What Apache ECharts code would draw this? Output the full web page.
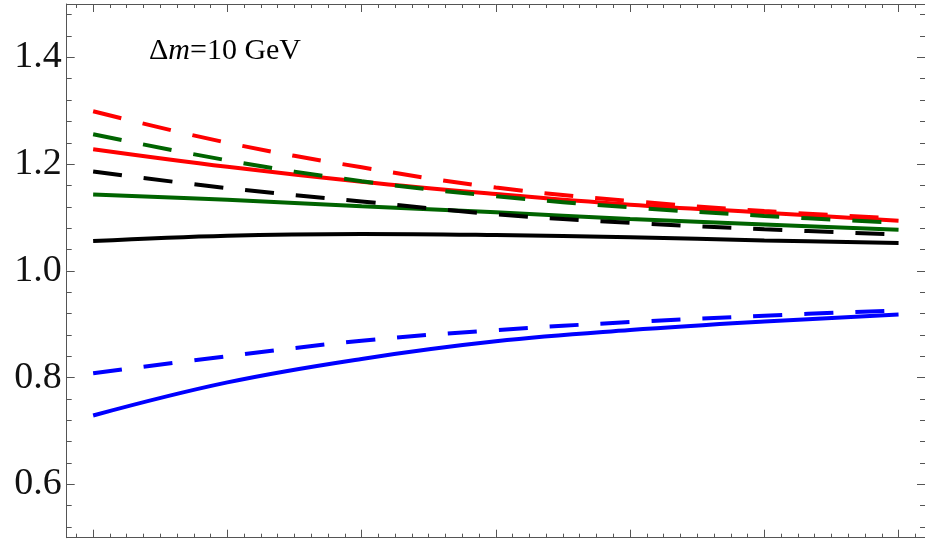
<!DOCTYPE html>
<html>
<head>
<meta charset="utf-8">
<script src="https://cdn.jsdelivr.net/npm/echarts@6/dist/echarts.min.js"></script>
<style>
  html, body { margin: 0; padding: 0; background: #fff; }
  #chart { width: 925px; height: 539px; }
</style>
</head>
<body>
<div id="chart"></div>
<script>
// Sample positions along the horizontal axis (major tick units)
const xs = [0, 1, 2, 3, 4, 5, 6];

// Ratio curves
const redSolid    = [1.228, 1.195, 1.167, 1.144, 1.124, 1.109, 1.094];
const redDashed   = [1.299, 1.240, 1.194, 1.156, 1.131, 1.112, 1.098];
const greenSolid  = [1.143, 1.133, 1.121, 1.110, 1.097, 1.087, 1.077];
const greenDashed = [1.256, 1.207, 1.168, 1.140, 1.119, 1.103, 1.090];
const blackSolid  = [1.056, 1.066, 1.069, 1.067, 1.063, 1.057, 1.052];
const blackDashed = [1.186, 1.155, 1.130, 1.106, 1.090, 1.078, 1.068];
const blueSolid   = [0.729, 0.791, 0.835, 0.868, 0.889, 0.905, 0.918];
const blueDashed  = [0.808, 0.840, 0.869, 0.889, 0.904, 0.916, 0.926];

// Tick positions
const xMajor = [0, 1, 2, 3, 4, 5, 6];
const yMajorLabels = [0.6, 0.8, 1.0, 1.2, 1.4];

const xMinor = [];
for (let k = -1; k <= 49; k++) if (k % 8 !== 0) xMinor.push(k / 8);
const yMinor = [];
for (let k = 13; k <= 37; k++) if (k % 5 !== 0) yMinor.push(+(k * 0.04).toFixed(2));

const X_MIN = -0.197, X_MAX = 6.197;
const Y_MIN = 0.5, Y_MAX = 1.5;
const FRAME = '#555';

function xAx(pos, ticks, len, showLine) {
  return {
    type: 'value', position: pos, min: X_MIN, max: X_MAX,
    axisLine: { show: showLine, onZero: false, lineStyle: { color: FRAME, width: 1 } },
    axisTick: { show: true, inside: true, length: len, customValues: ticks,
                lineStyle: { color: FRAME, width: 1 } },
    axisLabel: { show: false },
    splitLine: { show: false }
  };
}
function yAx(pos, ticks, len, showLine, labels) {
  return {
    type: 'value', position: pos, min: Y_MIN, max: Y_MAX,
    axisLine: { show: showLine, onZero: false, lineStyle: { color: FRAME, width: 1 } },
    axisTick: { show: true, inside: true, length: len, customValues: ticks,
                lineStyle: { color: FRAME, width: 1 } },
    axisLabel: labels ? {
      show: true, customValues: labels, margin: 5,
      fontFamily: 'Liberation Serif', fontSize: 38, color: '#111',
      formatter: v => v.toFixed(1)
    } : { show: false },
    splitLine: { show: false }
  };
}

function pairs(ys) { return xs.map((x, i) => [x, ys[i]]); }
function curve(ys, color, dashed) {
  return {
    type: 'line', xAxisIndex: 0, yAxisIndex: 0,
    data: pairs(ys), smooth: 0.4, showSymbol: false, symbol: 'none',
    lineStyle: { color: color, width: 4, type: dashed ? [29, 22] : 'solid', cap: 'butt' },
    silent: true, animation: false
  };
}

const RED = '#ff0000', GREEN = '#006400', BLACK = '#000000', BLUE = '#0000ff';

const chart = echarts.init(document.getElementById('chart'), null, { renderer: 'canvas' });
chart.setOption({
  backgroundColor: '#ffffff',
  animation: false,
  grid: { left: 66.7, top: 4, width: 863.3, height: 533.7, containLabel: false },
  xAxis: [
    xAx('bottom', xMajor, 8, true),
    xAx('bottom', xMinor, 4, false),
    xAx('top', xMajor, 8, true),
    xAx('top', xMinor, 4, false)
  ],
  yAxis: [
    yAx('left', yMajorLabels, 8, true, yMajorLabels),
    yAx('left', yMinor, 5, false, null),
    yAx('right', yMajorLabels, 8, true, null),
    yAx('right', yMinor, 5, false, null)
  ],
  graphic: [{
    type: 'text', left: 149, top: 36, silent: true,
    style: {
      text: '{n|Δ}{i|m}{n|=10 GeV}',
      rich: {
        n: { fontFamily: 'Liberation Serif', fontSize: 30, fill: '#000' },
        i: { fontFamily: 'Liberation Serif', fontSize: 30, fontStyle: 'italic', fill: '#000' }
      }
    }
  }],
  series: [
    curve(blueSolid, BLUE, false),
    curve(blackSolid, BLACK, false),
    curve(greenSolid, GREEN, false),
    curve(redSolid, RED, false),
    curve(blueDashed, BLUE, true),
    curve(blackDashed, BLACK, true),
    curve(greenDashed, GREEN, true),
    curve(redDashed, RED, true)
  ]
});
</script>
</body>
</html>
